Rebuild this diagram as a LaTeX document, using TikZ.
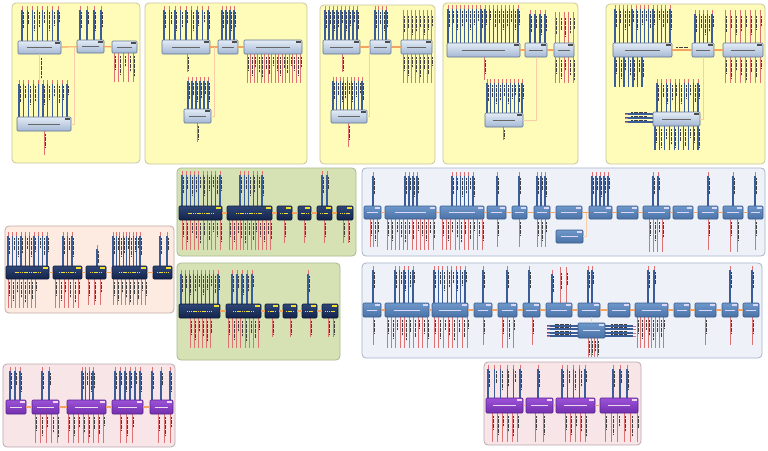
\documentclass[tikz,border=0pt]{standalone}
\usetikzlibrary{calc}
\definecolor{pyelf}{HTML}{FFFBB8}\definecolor{pyeld}{HTML}{C9C6A0}
\definecolor{pgrnf}{HTML}{D6E2B4}\definecolor{pgrnd}{HTML}{A9B98E}
\definecolor{psalf}{HTML}{FDEBE1}\definecolor{psald}{HTML}{C3ABA3}
\definecolor{ppnkf}{HTML}{F8E5E7}\definecolor{ppnkd}{HTML}{BBA9B0}
\definecolor{pbluf}{HTML}{EEF2F8}\definecolor{pblud}{HTML}{A6B3CB}
\definecolor{lbtop}{HTML}{E4ECF6}\definecolor{lbbot}{HTML}{A4B8D3}\definecolor{lbdraw}{HTML}{5E7596}
\definecolor{nvtop}{HTML}{2E4677}\definecolor{nvbot}{HTML}{13234A}\definecolor{nvdraw}{HTML}{0F1B3A}
\definecolor{bltop}{HTML}{6E97CA}\definecolor{blbot}{HTML}{4A72A7}\definecolor{bldraw}{HTML}{3A5C8C}
\definecolor{putop}{HTML}{9C52D8}\definecolor{pubot}{HTML}{7230AE}\definecolor{pudraw}{HTML}{5A2090}
\definecolor{pinblue}{HTML}{3A5C98}\definecolor{pinred}{HTML}{DE7272}\definecolor{connor}{HTML}{F4A460}
\definecolor{navytxt}{HTML}{F2E030}
\tikzset{
 panel/.style={draw=#1, line width=0.8pt, rounded corners=4pt},
 boxlb/.style={draw=lbdraw, line width=0.6pt, top color=lbtop, bottom color=lbbot, rounded corners=1pt},
 txtlb/.style={draw=black!60, line width=0.6pt},
 taglb/.style={fill=black!70},
 boxnv/.style={draw=nvdraw, line width=0.6pt, top color=nvtop, bottom color=nvbot, rounded corners=1pt},
 txtnv/.style={draw=navytxt, line width=0.7pt, dash pattern=on 1.2pt off 0.6pt},
 tagnv/.style={fill=navytxt},
 boxbl/.style={draw=bldraw, line width=0.6pt, top color=bltop, bottom color=blbot, rounded corners=1pt},
 txtbl/.style={draw=white!85!blue, line width=0.6pt},
 tagbl/.style={fill=white!85!blue},
 boxpu/.style={draw=pudraw, line width=0.6pt, top color=putop, bottom color=pubot, rounded corners=1pt},
 txtpu/.style={draw=white!85!violet, line width=0.6pt},
 tagpu/.style={fill=white!85!violet},
 pinup/.style={draw=pinblue, line width=1.2pt},
 pinupred/.style={draw=pinred, line width=1pt},
 pintip/.style={draw=pinred, line width=1pt},
 pindn/.style={draw=pinred, line width=1pt},
 pindnblue/.style={draw=pinblue, line width=1.2pt},
 pintext/.style={draw=black!75, line width=0.9pt, dash pattern=on 2pt off 0.5pt},
 conn/.style={draw=connor, line width=1.1pt},
 connpale/.style={draw=connor!55, line width=0.9pt},
}
% block: name x1 y1 x2 y2 kind
\newcommand\blk[6]{%
 \pgfmathsetmacro\bw{#4-#2}\pgfmathsetmacro\bh{#5-#3}%
 \node[box#6, anchor=north west, minimum width=\bw pt, minimum height=\bh pt, inner sep=0pt, outer sep=0pt] (#1) at (#2,#3) {};%
 \draw[txt#6] ($(#1.west)!0.2!(#1.east)$) -- ($(#1.west)!0.8!(#1.east)$);%
 \fill[tag#6] ([xshift=-6pt,yshift=-1pt]#1.north east) rectangle ([xshift=-1.2pt,yshift=-2.6pt]#1.north east);}
% pins above: [style] x1 x2 n ytop ybox
\newcommand\pinsup[6][pinup]{%
 \ifnum#4>1 \pgfmathsetmacro\pstep{(#3-#2)/(#4-1)}\else\def\pstep{0}\fi
 \foreach \i in {1,...,#4}{%
   \pgfmathsetmacro\px{#2+(\i-1)*\pstep}%
   \pgfmathsetmacro\pl{max(2,min(#6-#5-9, 9+mod(\i*7,11)))}%
   \draw[#1] (\px,#6) -- (\px,#5+4);%
   \draw[pintip] (\px,#5+4) -- (\px,#5);%
   \draw[pintext] (\px+1.7,#5+6) -- ++(0,\pl);%
 }}
% pins below: [style] x1 x2 n ybox ybot
\newcommand\pinsdn[6][pindn]{%
 \ifnum#4>1 \pgfmathsetmacro\pstep{(#3-#2)/(#4-1)}\else\def\pstep{0}\fi
 \foreach \i in {1,...,#4}{%
   \pgfmathsetmacro\px{#2+(\i-1)*\pstep}%
   \pgfmathsetmacro\pl{max(2,min(#6-#5-5, 8+mod(\i*5,13)))}%
   \draw[#1] (\px,#5) -- (\px,#6);%
   \draw[pintext] (\px+1.7,#5+3) -- ++(0,\pl);%
 }}
% horizontal pin: xouter xinner y
\newcommand\hpin[3]{%
 \draw[pinup] (#2,#3) -- (#1,#3);%
 \draw[pintip] (#1,#3) -- ++(3,0);%
 \draw[pintext] ($(#1,#3)!0.5!(#2,#3)+(-8,-1.6)$) -- ++(16,0);}
\begin{document}
\begin{tikzpicture}[x=1pt,y=-1pt]
\useasboundingbox (0,0) rectangle (768,450);
\fill[white] (0,0) rectangle (768,450);
% ---------- panels ----------
\draw[panel=pyeld, fill=pyelf] (12,3) rectangle (140,163);
\draw[panel=pyeld, fill=pyelf] (145,3) rectangle (307,164);
\draw[panel=pyeld, fill=pyelf] (320,5) rectangle (435,164);
\draw[panel=pyeld, fill=pyelf] (443,3) rectangle (578,164);
\draw[panel=pyeld, fill=pyelf] (606,4) rectangle (765,164);
\draw[panel=pgrnd, fill=pgrnf] (177,168) rectangle (356,256);
\draw[panel=pgrnd, fill=pgrnf] (177,263) rectangle (340,360);
\draw[panel=psald, fill=psalf] (5,226) rectangle (174,313);
\draw[panel=ppnkd, fill=ppnkf] (3,364) rectangle (175,447);
\draw[panel=ppnkd, fill=ppnkf] (484,362) rectangle (641,445);
\draw[panel=pblud, fill=pbluf] (362,168) rectangle (765,256);
\draw[panel=pblud, fill=pbluf] (362,263) rectangle (762,358);
% ---------- panel A ----------
\pinsup{22}{58}{8}{6}{41}
\pinsup{80}{101}{4}{6}{40}
\pinsdn{114}{133}{5}{53}{82}
\pinsup{19}{67}{11}{80}{117}
\pinsdn{44}{44}{1}{131}{155}
\blk{a1}{18}{41}{61}{54}{lb}
\blk{a2}{77}{40}{104}{53}{lb}
\blk{a3}{112}{41}{137}{53}{lb}
\blk{a4}{17}{117}{71}{131}{lb}
\draw[conn] (a1) -- (a2);
\draw[conn] (a2) -- (a3);
\draw[connpale] (a1.south) -- (a1.south |- a4.north);
\draw[pintext] ($(a1.south)+(1.7,4)$) -- ++(0,20);
\coordinate (ja) at (74,47);
\draw[connpale] (a4.east) -| (ja);
% ---------- panel B ----------
\pinsup{164}{208}{9}{6}{40}
\pinsdn{187}{187}{1}{54}{72}
\pinsup{222}{234}{4}{6}{40}
\pinsdn{247}{300}{16}{54}{83}
\pinsup{188}{208}{6}{77}{109}
\pinsdn{197}{197}{1}{123}{142}
\blk{b1}{162}{40}{210}{54}{lb}
\blk{b2}{218}{40}{238}{54}{lb}
\blk{b3}{244}{40}{302}{54}{lb}
\blk{b4}{184}{109}{211}{123}{lb}
\draw[conn] (b1) -- (b2);
\draw[conn] (b2) -- (b3);
\coordinate (jb) at (214,47);
\draw[connpale] (b4.east) -| (jb);
% ---------- panel C ----------
\pinsup{325}{357}{9}{6}{40}
\pinsdn{342}{342}{1}{54}{72}
\pinsup{375}{386}{4}{6}{40}
\pinsup[pinupred]{403}{431}{8}{10}{40}
\pinsdn{403}{431}{8}{54}{83}
\pinsup{333}{362}{9}{77}{110}
\pinsdn{348}{348}{1}{123}{147}
\blk{c1}{323}{40}{360}{54}{lb}
\blk{c2}{370}{40}{391}{54}{lb}
\blk{c3}{401}{40}{432}{54}{lb}
\blk{c4}{331}{110}{367}{123}{lb}
\draw[conn] (c1) -- (c2);
\draw[conn] (c2) -- (c3);
\coordinate (jc) at (369,47);
\draw[connpale] (c4.east) -| (jc);
% ---------- panel D ----------
\pinsup{448}{518}{18}{5}{43}
\pinsdn{484}{484}{1}{57}{80}
\pinsup{530}{545}{4}{10}{43}
\pinsup[pinupred]{555}{573}{5}{12}{43}
\pinsdn{555}{573}{5}{57}{83}
\pinsup{487}{522}{10}{79}{113}
\pinsdn{503}{503}{1}{127}{140}
\blk{d1}{447}{43}{520}{57}{lb}
\blk{d2}{525}{43}{547}{57}{lb}
\blk{d3}{554}{43}{574}{57}{lb}
\blk{d4}{485}{113}{523}{127}{lb}
\draw[conn] (d1) -- (d2);
\draw[conn] (d2) -- (d3);
\draw[connpale] (d4.east) -| (d2.south);
% ---------- panel E ----------
\pinsup{615}{670}{14}{5}{43}
\pinsdn[pindnblue]{615}{642}{7}{57}{87}
\pinsup{695}{712}{5}{10}{43}
\pinsup[pinupred]{725}{760}{8}{10}{43}
\pinsdn{725}{760}{8}{57}{83}
\pinsup{657}{698}{10}{79}{112}
\pinsdn[pindnblue]{655}{698}{10}{126}{150}
\hpin{625}{653}{114}
\hpin{625}{653}{118}
\hpin{625}{653}{122}
\blk{e1}{613}{43}{672}{57}{lb}
\blk{e2}{692}{43}{714}{57}{lb}
\blk{e3}{723}{43}{763}{57}{lb}
\blk{e4}{653}{112}{700}{126}{lb}
\draw[conn] (e1) -- (e2);
\draw[pintext] (676,47.5) -- ++(12,0);
\draw[conn] (e2) -- (e3);
\coordinate (je) at (703,57);
\draw[connpale] (e4.east) -| (je);
% ---------- panel G1 (green) ----------
\pinsup{182}{220}{10}{171}{206}
\pinsdn{182}{220}{10}{220}{250}
\pinsup{240}{262}{6}{171}{206}
\pinsdn{229}{270}{12}{220}{250}
\pinsdn{284}{284}{1}{220}{243}
\pinsdn{304}{304}{1}{220}{243}
\pinsup{322}{327}{2}{171}{206}
\pinsdn{324}{324}{1}{220}{243}
\pinsdn{343}{348}{2}{220}{243}
\blk{g1}{179}{206}{222}{220}{nv}
\blk{g2}{227}{206}{272}{220}{nv}
\blk{g3}{277}{206}{292}{220}{nv}
\blk{g4}{298}{206}{311}{220}{nv}
\blk{g5}{317}{206}{332}{220}{nv}
\blk{g6}{337}{206}{353}{220}{nv}
\foreach \u/\v in {g1/g2,g2/g3,g3/g4,g4/g5,g5/g6}{\draw[conn] (\u) -- (\v);}
% ---------- panel G2 (green) ----------
\pinsup{181}{218}{10}{270}{304}
\pinsdn{190}{210}{6}{318}{348}
\pinsup{232}{252}{5}{270}{304}
\pinsdn{228}{258}{8}{318}{348}
\pinsdn{272}{272}{1}{318}{337}
\pinsdn{290}{290}{1}{318}{337}
\pinsup{308}{308}{1}{270}{304}
\pinsdn{310}{310}{1}{318}{337}
\pinsdn{328}{333}{2}{318}{337}
\blk{h1}{179}{304}{220}{318}{nv}
\blk{h2}{226}{304}{261}{318}{nv}
\blk{h3}{265}{304}{279}{318}{nv}
\blk{h4}{283}{304}{297}{318}{nv}
\blk{h5}{302}{304}{317}{318}{nv}
\blk{h6}{322}{304}{338}{318}{nv}
\foreach \u/\v in {h1/h2,h2/h3,h3/h4,h4/h5,h5/h6}{\draw[conn] (\u) -- (\v);}
% ---------- panel H (salmon) ----------
\pinsup{8}{47}{10}{232}{266}
\pinsdn{8}{35}{8}{279}{308}
\pinsup{63}{72}{3}{232}{266}
\pinsdn{55}{78}{6}{279}{308}
\pinsup{97}{97}{1}{245}{266}
\pinsdn{88}{100}{3}{279}{305}
\pinsup{113}{140}{9}{232}{266}
\pinsdn{113}{145}{9}{279}{305}
\pinsup{160}{167}{2}{232}{266}
\blk{i1}{6}{266}{49}{279}{nv}
\blk{i2}{53}{266}{82}{279}{nv}
\blk{i3}{86}{266}{106}{279}{nv}
\blk{i4}{112}{266}{147}{279}{nv}
\blk{i5}{153}{266}{172}{279}{nv}
\foreach \u/\v in {i1/i2,i2/i3,i3/i4,i4/i5}{\draw[conn] (\u) -- (\v);}
% ---------- panel I (pink) ----------
\pinsup{10}{20}{3}{367}{400}
\pinsup{42}{49}{2}{367}{400}
\pinsdn{35}{57}{5}{414}{443}
\pinsup{82}{93}{4}{367}{400}
\pinsdn{68}{103}{8}{414}{443}
\pinsup{115}{140}{6}{367}{400}
\pinsdn{120}{132}{3}{414}{443}
\pinsup{152}{170}{3}{367}{400}
\pinsdn{158}{170}{3}{414}{443}
\blk{j1}{6}{400}{26}{414}{pu}
\blk{j2}{32}{400}{59}{414}{pu}
\blk{j3}{67}{400}{106}{414}{pu}
\blk{j4}{112}{400}{143}{414}{pu}
\blk{j5}{150}{400}{173}{414}{pu}
\foreach \u/\v in {j1/j2,j2/j3,j3/j4,j4/j5}{\draw[conn] (\u) -- (\v);}
% ---------- panel J (pink) ----------
\pinsup{488}{520}{6}{365}{398}
\pinsdn{492}{517}{6}{413}{442}
\pinsup{538}{538}{1}{365}{398}
\pinsdn{535}{543}{2}{413}{442}
\pinsup{562}{585}{5}{365}{398}
\pinsdn{565}{585}{5}{413}{442}
\pinsup{613}{627}{3}{365}{398}
\pinsdn{605}{637}{6}{413}{442}
\blk{k1}{486}{398}{523}{413}{pu}
\blk{k2}{526}{398}{553}{413}{pu}
\blk{k3}{556}{398}{595}{413}{pu}
\blk{k4}{600}{398}{638}{413}{pu}
\foreach \u/\v in {k1/k2,k2/k3,k3/k4}{\draw[conn] (\u) -- (\v);}
% ---------- panel K (blue) ----------
\pinsup{373}{373}{1}{172}{206}
\pinsdn{370}{377}{3}{219}{247}
\pinsup{405}{417}{4}{172}{206}
\pinsdn{387}{433}{12}{219}{250}
\pinsup{452}{473}{6}{172}{206}
\pinsdn{442}{482}{10}{219}{250}
\pinsup{497}{497}{1}{172}{206}
\pinsdn{497}{497}{1}{219}{247}
\pinsup{519}{519}{1}{172}{206}
\pinsdn{519}{519}{1}{219}{247}
\pinsup{537}{545}{3}{172}{206}
\pinsdn{537}{545}{3}{219}{247}
\pinsup{592}{608}{5}{172}{206}
\pinsup{653}{658}{2}{172}{206}
\pinsdn{649}{662}{4}{219}{252}
\pinsup{708}{708}{1}{172}{206}
\pinsdn{708}{708}{1}{219}{250}
\pinsup{733}{733}{1}{172}{206}
\pinsdn{730}{737}{2}{219}{252}
\pinsup{755}{755}{1}{172}{206}
\pinsdn{755}{755}{1}{219}{250}
\blk{m1}{364}{206}{381}{219}{bl}
\blk{m2}{385}{206}{436}{219}{bl}
\blk{m3}{440}{206}{484}{219}{bl}
\blk{m4}{487}{206}{506}{219}{bl}
\blk{m5}{512}{206}{527}{219}{bl}
\blk{m6}{534}{206}{550}{219}{bl}
\blk{m7}{556}{206}{582}{219}{bl}
\blk{m8}{589}{206}{612}{219}{bl}
\blk{m9}{617}{206}{638}{219}{bl}
\blk{m10}{643}{206}{670}{219}{bl}
\blk{m11}{673}{206}{693}{219}{bl}
\blk{m12}{698}{206}{718}{219}{bl}
\blk{m13}{723}{206}{743}{219}{bl}
\blk{m14}{748}{206}{763}{219}{bl}
\blk{mx}{556}{230}{583}{243}{bl}
\foreach \u/\v in {m1/m2,m2/m3,m3/m4,m4/m5,m5/m6,m6/m7,m7/m8,m8/m9,m9/m10,m10/m11,m11/m12,m12/m13,m13/m14}{\draw[conn] (\u) -- (\v);}
\coordinate (jm) at (586,212.5);
\draw[connpale] (mx.east) -| (jm);
% ---------- panel L (blue) ----------
\pinsup{373}{373}{1}{266}{303}
\pinsdn{373}{373}{1}{317}{345}
\pinsup{395}{413}{5}{266}{303}
\pinsdn{387}{427}{10}{317}{348}
\pinsup{434}{465}{8}{266}{303}
\pinsdn{434}{467}{8}{317}{348}
\pinsup{483}{483}{1}{266}{303}
\pinsdn{483}{483}{1}{317}{345}
\pinsup{507}{507}{1}{266}{303}
\pinsdn{502}{513}{3}{317}{348}
\pinsup{529}{529}{1}{266}{303}
\pinsdn{532}{532}{1}{317}{345}
\pinsup{552}{552}{1}{270}{303}
\pinsup[pinupred]{560}{566}{2}{267}{303}
\pinsup{588}{592}{2}{266}{303}
\pinsup{648}{654}{2}{266}{303}
\pinsdn{637}{663}{8}{317}{348}
\pinsdn{705}{705}{1}{317}{345}
\pinsup{730}{730}{1}{266}{303}
\pinsdn{730}{730}{1}{317}{345}
\pinsup{752}{752}{1}{266}{303}
\pinsdn{752}{752}{1}{317}{345}
\hpin{547}{578}{326}
\hpin{547}{578}{329}
\hpin{547}{578}{333}
\hpin{547}{578}{336}
\hpin{633}{605}{326}
\hpin{633}{605}{329}
\hpin{633}{605}{333}
\hpin{633}{605}{336}
\pinsdn{588}{597}{4}{338}{357}
\blk{n1}{363}{303}{381}{317}{bl}
\blk{n2}{385}{303}{429}{317}{bl}
\blk{n3}{432}{303}{468}{317}{bl}
\blk{n4}{474}{303}{492}{317}{bl}
\blk{n5}{498}{303}{517}{317}{bl}
\blk{n6}{523}{303}{540}{317}{bl}
\blk{n7}{546}{303}{572}{317}{bl}
\blk{n8}{578}{303}{600}{317}{bl}
\blk{n9}{608}{303}{630}{317}{bl}
\blk{n10}{635}{303}{668}{317}{bl}
\blk{n11}{674}{303}{690}{317}{bl}
\blk{n12}{695}{303}{716}{317}{bl}
\blk{n13}{722}{303}{738}{317}{bl}
\blk{n14}{743}{303}{759}{317}{bl}
\blk{nx}{578}{323}{605}{338}{bl}
\foreach \u/\v in {n1/n2,n2/n3,n3/n4,n4/n5,n5/n6,n6/n7,n7/n8,n8/n9,n9/n10,n10/n11,n11/n12,n12/n13,n13/n14}{\draw[conn] (\u) -- (\v);}
\draw[connpale] (nx.north) -- (nx.north |- n8.south);
\end{tikzpicture}
\end{document}
